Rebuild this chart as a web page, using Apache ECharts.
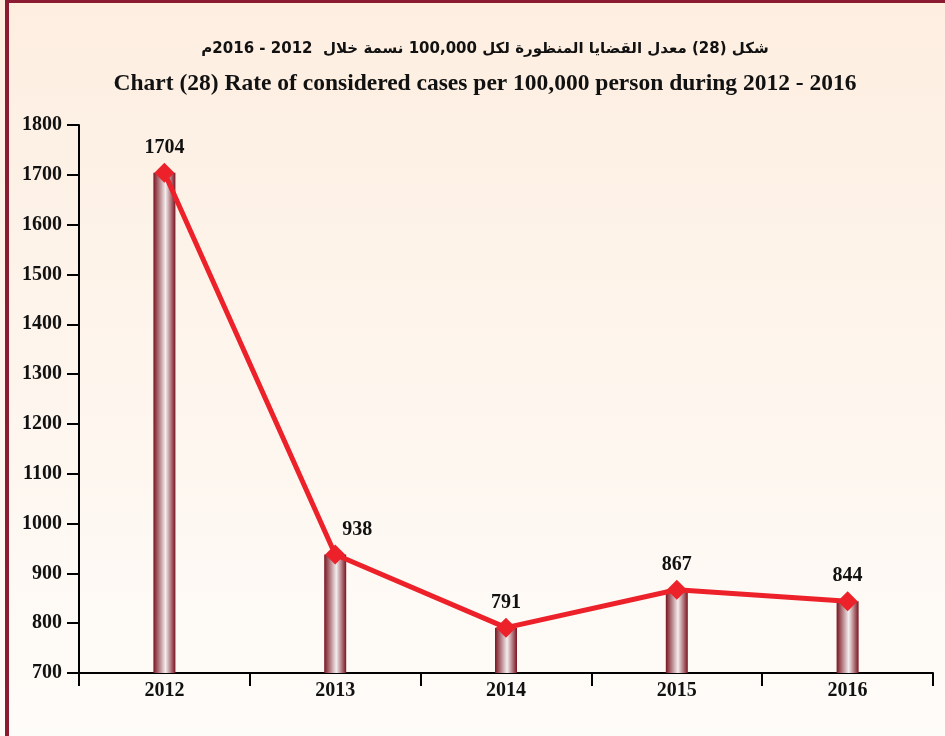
<!DOCTYPE html>
<html>
<head>
<meta charset="utf-8">
<script src="https://cdn.jsdelivr.net/npm/echarts@6/dist/echarts.min.js"></script>
<style>
	html, body { margin: 0; padding: 0; }
	#chart { width: 945px; height: 736px; }
</style>
</head>
<body>
<div id="chart"></div>
<script>
	const years = ['2012', '2013', '2014', '2015', '2016'];
	const rates = [1704, 938, 791, 867, 844];
	const yTicks = { min: 700, max: 1800, step: 100 };

	const titleAr = 'شكل (28) معدل القضايا المنظورة لكل 100,000 نسمة خلال  2012 - 2016م';
	const titleEn = 'Chart (28) Rate of considered cases per 100,000 person during 2012 - 2016';

	const serif = '"Liberation Serif", "Times New Roman", serif';

	let chart = echarts.init(document.getElementById('chart'));

	chart.setOption({
		backgroundColor: new echarts.graphic.LinearGradient(0, 0, 0, 1, [
			{ offset: 0, color: '#fdeee0' },
			{ offset: 1, color: '#fefcf9' }
		]),
		title: [
			{
				text: titleAr,
				left: 480,
				top: 37,
				textAlign: 'center',
				textStyle: { fontFamily: '"DejaVu Sans", sans-serif', fontWeight: 'bold', fontSize: 15, color: '#111' }
			},
			{
				text: titleEn,
				left: 480,
				top: 67,
				textAlign: 'center',
				textStyle: { fontFamily: serif, fontWeight: 'bold', fontSize: 23.5, color: '#111' }
			}
		],
		graphic: [
			{ type: 'rect', shape: { x: 5, y: 0, width: 940, height: 3 }, style: { fill: '#8a1b31' } },
			{ type: 'rect', shape: { x: 5, y: 0, width: 4, height: 736 }, style: { fill: '#8a1b31' } }
		],
		grid: { left: 79, right: 12, top: 125, bottom: 63 },
		xAxis: {
			type: 'category',
			data: years,
			boundaryGap: true,
			axisLine: { lineStyle: { color: '#000', width: 2 } },
			axisTick: { show: true, inside: false, length: 13, lineStyle: { color: '#000', width: 2 } },
			axisLabel: { color: '#111', fontFamily: serif, fontWeight: 'bold', fontSize: 20, margin: 8 }
		},
		yAxis: {
			type: 'value',
			min: yTicks.min,
			max: yTicks.max,
			interval: yTicks.step,
			splitLine: { show: false },
			axisLine: { show: true, lineStyle: { color: '#000', width: 2 } },
			axisTick: { show: true, length: 12, lineStyle: { color: '#000', width: 2 } },
			axisLabel: {
				color: '#111', fontFamily: serif, fontWeight: 'bold', fontSize: 20, margin: 17,
				formatter: v => String(v)
			}
		},
		series: [
			{
				type: 'bar',
				data: rates,
				barWidth: 22,
				silent: true,
				itemStyle: {
					color: new echarts.graphic.LinearGradient(0, 0, 1, 0, [
						{ offset: 0, color: '#7a1420' },
						{ offset: 0.55, color: '#f3eeee' },
						{ offset: 1, color: '#7a1420' }
					])
				}
			},
			{
				type: 'line',
				data: rates.map((v, i) => i === 1
					? { value: v, label: { offset: [22, 0] } }
					: v),
				symbol: 'diamond',
				symbolSize: 20,
				lineStyle: { color: '#ec2129', width: 5 },
				itemStyle: { color: '#ec2129' },
				label: {
					show: true,
					position: 'top',
					distance: 5,
					color: '#111',
					fontFamily: serif,
					fontWeight: 'bold',
					fontSize: 20
				},
				z: 5
			}
		]
	});
</script>
</body>
</html>
